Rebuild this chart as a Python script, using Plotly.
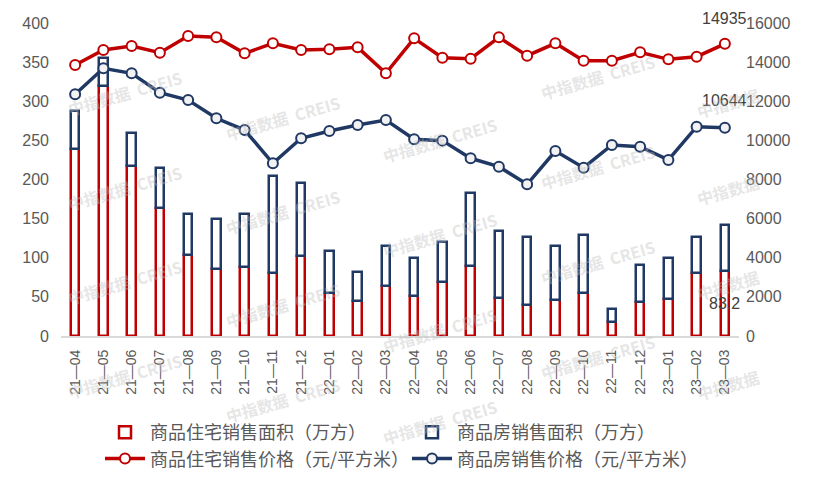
import plotly.graph_objects as go

months = ["21—04", "21—05", "21—06", "21—07", "21—08", "21—09", "21—10", "21—11", "21—12",
          "22—01", "22—02", "22—03", "22—04", "22—05", "22—06", "22—07", "22—08", "22—09",
          "22—10", "22—11", "22—12", "23—01", "23—02", "23—03"]

# 商品住宅销售面积（万方）
res_area = [238.6, 319.5, 217.7, 163.6, 103.1, 85.6, 87.8, 80.1, 102.2,
            55.4, 44.3, 63.9, 50.7, 68.6, 89.0, 48.6, 39.2, 45.6,
            54.5, 17.9, 43.0, 47.7, 80.1, 83.2]
# 商品房销售面积（万方）
all_area = [287.5, 355.3, 259.8, 215.1, 156.3, 149.5, 156.3, 204.9, 195.9,
            108.2, 81.8, 115.4, 99.7, 120.1, 182.7, 134.2, 126.5, 115.0,
            129.1, 34.5, 90.7, 99.7, 126.5, 142.2]
# 商品住宅销售价格（元/平方米）
res_price = [13853, 14620, 14824, 14483, 15335, 15268, 14450, 14961, 14620,
             14654, 14756, 13428, 15217, 14227, 14176, 15268, 14330, 14961,
             14074, 14074, 14500, 14142, 14278, 14935]
# 商品房销售价格（元/平方米）
all_price = [12355, 13684, 13428, 12437, 12064, 11128, 10530, 8828, 10106,
             10479, 10786, 11042, 10055, 9987, 9084, 8656, 7755, 9457,
             8605, 9764, 9678, 9000, 10700, 10644]

RED = "#C00000"
NAVY = "#203864"
GRAY = "#595959"

fig = go.Figure()
fig.add_trace(go.Bar(
    x=months, y=res_area, name="商品住宅销售面积（万方）",
    marker=dict(color="white", line=dict(color=RED, width=2.5)),
    width=0.3, yaxis="y"))
fig.add_trace(go.Bar(
    x=months, y=[a - r for a, r in zip(all_area, res_area)], base=res_area,
    name="商品房销售面积（万方）",
    marker=dict(color="white", line=dict(color=NAVY, width=2.5)),
    width=0.3, yaxis="y"))
fig.add_trace(go.Scatter(
    x=months, y=res_price, name="商品住宅销售价格（元/平方米）", mode="lines+markers",
    line=dict(color=RED, width=3.5),
    marker=dict(symbol="circle", size=10, color="white", line=dict(color=RED, width=2)),
    yaxis="y2"))
fig.add_trace(go.Scatter(
    x=months, y=all_price, name="商品房销售价格（元/平方米）", mode="lines+markers",
    line=dict(color=NAVY, width=3.5),
    marker=dict(symbol="circle", size=10, color="#F2F2F2", line=dict(color=NAVY, width=2)),
    yaxis="y2"))

annotations = [
    dict(x=months[-1], y=res_price[-1], xref="x", yref="y2", text=f"{res_price[-1]}",
         showarrow=False, yshift=25, font=dict(size=16, color="#404040")),
    dict(x=months[-1], y=all_price[-1], xref="x", yref="y2", text=f"{all_price[-1]}",
         showarrow=False, yshift=27, font=dict(size=16, color="#404040")),
    dict(x=months[-1], y=res_area[-1], xref="x", yref="y", text=f"{res_area[-1]}",
         showarrow=False, yshift=-33, font=dict(size=16, color="#404040")),
]

# watermarks
wm_cols = [(125, [93, 188, 282, 376], "中指数据  CREIS"),
           (283, [118, 212, 305, 400], "中指数据  CREIS"),
           (440, [140, 235, 330, 422], "中指数据  CREIS"),
           (598, [77, 167, 262, 357], "中指数据  CREIS"),
           (728, [103, 190, 285, 385], "中指数据")]
L, R, T, B = 61, 739, 23, 336
for cx, ys, txt in wm_cols:
    for cy in ys:
        annotations.append(dict(
            x=(cx - L) / (R - L), y=(B - cy) / (B - T), xref="paper", yref="paper",
            xanchor="center", yanchor="middle",
            text=f"<b>{txt}</b>", showarrow=False, textangle=-16,
            font=dict(size=16, color="rgba(190,190,190,0.4)", family="Noto Sans CJK SC")))

fig.update_layout(
    width=814, height=478,
    margin=dict(l=L, r=814 - R, t=T, b=478 - B, autoexpand=False),
    paper_bgcolor="white", plot_bgcolor="white",
    barmode="overlay", bargap=0,
    font=dict(family="Liberation Sans, Arial, sans-serif", color=GRAY),
    showlegend=True,
    legend=dict(orientation="h", xref="container", yref="container",
                x=100 / 814, y=1 - 414 / 478, xanchor="left", yanchor="top",
                entrywidth=252, itemwidth=40,
                font=dict(size=18, color=GRAY, family="Noto Sans CJK SC"),
                bgcolor="rgba(0,0,0,0)", traceorder="normal"),
    annotations=annotations,
    xaxis=dict(type="category", range=[-0.5, len(months) - 0.5], tickangle=-90,
               tickfont=dict(size=14, color=GRAY),
               showline=True, linecolor="#D9D9D9", linewidth=2, showgrid=False,
               ticks="", ticklabelstandoff=6, automargin=False),
    yaxis=dict(range=[0, 400], dtick=50, tickfont=dict(size=16, color=GRAY),
               showgrid=False, zeroline=False, ticks="", ticklabelstandoff=11,
               automargin=False),
    yaxis2=dict(range=[0, 16000], dtick=2000, tickformat="d", overlaying="y", side="right",
                tickfont=dict(size=16, color=GRAY), showgrid=False, zeroline=False,
                ticks="", ticklabelstandoff=6, automargin=False),
)

fig.write_html("out.html")
